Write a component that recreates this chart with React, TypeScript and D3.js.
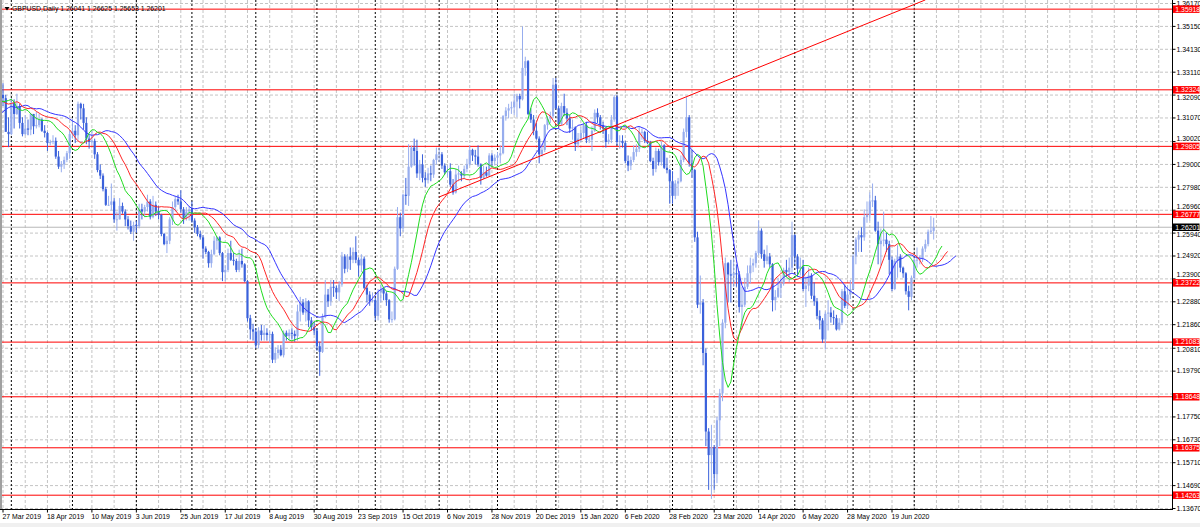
import React from "react";
import * as d3 from "d3";

// ---------- DATA (GBPUSD daily) ----------
// bar index of the first array entry relative to 27 Mar 2019 (bar 0); earlier bars feed the Alligator only
const FIRST_BAR = -27;

const opens = [
  // Feb 18 - Mar 26 2019 (warm-up, off screen)
  1.2900,1.2910,1.3045,1.3060,1.3040,1.3045,1.3080,1.3245,1.3280,1.3260,1.3195,1.3180,1.3165,1.3120,1.3030,1.3010,1.3160,1.3080,1.3240,1.3235,1.3260,1.3255,1.3245,1.3200,1.3080,1.3205,1.3200,
  // Mar 2019
  1.3210,1.3195,1.3045,
  // Apr 2019
  1.3035,1.3175,1.3125,1.3160,1.3085,1.3035,1.3060,1.3055,1.3125,1.3070,1.3075,1.3100,1.3050,1.3040,1.2995,1.3000,1.3005,1.2935,1.2890,1.2900,1.2920,1.2950,
  // May 2019
  1.3035,1.3050,1.3030,1.3170,1.3150,1.3085,1.3015,1.3000,1.3005,1.2945,1.2875,1.2850,1.2790,1.2720,1.2720,1.2735,1.2655,1.2655,1.2715,1.2690,1.2655,1.2625,1.2600,
  // Jun 2019
  1.2630,1.2625,1.2700,1.2690,1.2710,1.2735,1.2665,1.2720,1.2690,1.2675,1.2590,1.2545,1.2560,1.2655,1.2710,1.2745,1.2735,1.2700,1.2660,1.2690,
  // Jul 2019
  1.2700,1.2650,1.2620,1.2590,1.2575,1.2525,1.2510,1.2460,1.2500,1.2560,1.2575,1.2505,1.2420,1.2430,1.2505,1.2475,1.2470,1.2430,1.2470,1.2455,1.2380,1.2215,1.2165,
  // Aug 2019
  1.2155,1.2095,1.2160,1.2140,1.2150,1.2140,1.2145,1.2030,1.2060,1.2075,1.2050,1.2150,1.2135,1.2150,1.2145,1.2135,1.2245,1.2285,1.2240,1.2290,1.2205,1.2175,
  // Sep 2019
  1.2160,1.2090,1.2065,1.2220,1.2320,1.2290,1.2355,1.2350,1.2330,1.2365,1.2490,1.2435,1.2490,1.2475,1.2510,1.2475,1.2450,1.2480,1.2350,1.2320,1.2290,
  // Oct 2019
  1.2295,1.2225,1.2330,1.2345,1.2325,1.2295,1.2210,1.2210,1.2435,1.2665,1.2615,1.2765,1.2760,1.2890,1.2975,1.2960,1.2860,1.2900,1.2840,1.2830,1.2860,1.2855,1.2920,
  // Nov 2019
  1.2945,1.2945,1.2895,1.2865,1.2870,1.2810,1.2775,1.2855,1.2860,1.2850,1.2880,1.2900,1.2965,1.2940,1.2935,1.2900,1.2840,1.2865,1.2850,1.2940,1.2915,
  // Dec 2019
  1.2930,1.2940,1.2950,1.3115,1.3140,1.3150,1.3155,1.3180,1.3205,1.3190,1.3330,1.3360,1.3125,1.3100,1.3050,1.3015,1.2945,1.2965,1.3075,1.3105,1.3115,
  // Jan 2020
  1.3255,1.3150,1.3080,1.3160,1.3130,1.3105,1.3060,1.3065,1.2990,1.3015,1.3040,1.3075,1.3010,1.3010,1.3050,1.3130,1.3110,1.3075,1.3060,1.3000,1.3010,1.3100,
  // Feb 2020
  1.3200,1.3000,1.3005,1.2995,1.2915,1.2895,1.2920,1.2955,1.2970,1.3045,1.3045,1.3005,1.2995,1.2915,1.2880,1.2960,1.2910,1.2985,1.2885,1.2875,
  // Mar 2020
  1.2825,1.2760,1.2815,1.2825,1.2920,1.3045,1.3110,1.2905,1.2875,1.2575,1.2275,1.2285,1.2060,1.1710,1.1605,1.1640,1.1520,1.1760,1.1880,1.2195,1.2460,1.2410,
  // Apr 2020
  1.2405,1.2415,1.2410,1.2265,1.2275,1.2355,1.2415,1.2450,1.2460,1.2505,1.2605,1.2500,1.2470,1.2490,1.2455,1.2295,1.2310,1.2350,1.2370,1.2430,1.2420,1.2440,
  // May 2020
  1.2585,1.2490,1.2435,1.2445,1.2345,1.2360,1.2405,1.2315,1.2290,1.2225,1.2205,1.2120,1.2235,1.2240,1.2220,1.2215,1.2165,1.2195,1.2335,1.2270,1.2320,
  // Jun 2020
  1.2345,1.2490,1.2565,1.2585,1.2575,1.2665,1.2675,1.2735,1.2740,1.2605,1.2545,1.2560,1.2565,1.2545,1.2475,1.2345,1.2470,1.2490,1.2440,1.2415,1.2335,1.2310,
  // Jul 2020
  1.2395,1.2475,1.2475,1.2480,1.2525,1.2545,1.2600,1.26041,
];

const highs = [
  1.2955,1.3075,1.3110,1.3075,1.3070,1.3140,1.3250,1.3350,1.3290,1.3275,1.3225,1.3200,1.3185,1.3140,1.3060,1.3180,1.3290,1.3380,1.3320,1.3285,1.3310,1.3295,1.3290,1.3220,1.3225,1.3230,1.3230,
  1.3262,1.3210,1.3110,
  1.3195,1.3190,1.3215,1.3170,1.3110,1.3120,1.3100,1.3130,1.3125,1.3135,1.3125,1.3105,1.3075,1.3045,1.3010,1.3030,1.3020,1.2960,1.2915,1.2935,1.2960,1.3050,
  1.3105,1.3075,1.3180,1.3175,1.3170,1.3110,1.3030,1.3050,1.3015,1.2955,1.2900,1.2860,1.2800,1.2760,1.2815,1.2750,1.2690,1.2750,1.2730,1.2700,1.2670,1.2650,1.2645,
  1.2650,1.2725,1.2725,1.2720,1.2765,1.2745,1.2760,1.2735,1.2715,1.2680,1.2595,1.2580,1.2665,1.2735,1.2760,1.2765,1.2785,1.2710,1.2710,1.2715,
  1.2735,1.2660,1.2630,1.2605,1.2585,1.2535,1.2515,1.2520,1.2580,1.2580,1.2580,1.2510,1.2450,1.2525,1.2560,1.2505,1.2480,1.2520,1.2525,1.2460,1.2385,1.2230,1.2190,
  1.2170,1.2175,1.2185,1.2185,1.2170,1.2155,1.2155,1.2085,1.2095,1.2095,1.2160,1.2160,1.2165,1.2170,1.2160,1.2275,1.2310,1.2300,1.2305,1.2295,1.2220,1.2200,
  1.2170,1.2110,1.2235,1.2385,1.2345,1.2385,1.2385,1.2360,1.2380,1.2510,1.2500,1.2500,1.2530,1.2530,1.2580,1.2485,1.2500,1.2490,1.2365,1.2335,1.2330,
  1.2305,1.2345,1.2365,1.2350,1.2335,1.2300,1.2245,1.2445,1.2710,1.2685,1.2770,1.2840,1.2990,1.2985,1.3015,1.3010,1.2920,1.2945,1.2865,1.2885,1.2895,1.2925,1.2975,
  1.2975,1.2955,1.2905,1.2895,1.2905,1.2835,1.2880,1.2895,1.2870,1.2895,1.2925,1.2985,1.2970,1.2965,1.2985,1.2905,1.2895,1.2890,1.2950,1.2950,1.2945,
  1.2955,1.2985,1.3120,1.3155,1.3170,1.3180,1.3215,1.3215,1.3215,1.3515,1.3380,1.3365,1.3150,1.3120,1.3085,1.3025,1.2990,1.3080,1.3115,1.3135,1.3285,
  1.3285,1.3160,1.3175,1.3215,1.3150,1.3120,1.3100,1.3070,1.3040,1.3065,1.3085,1.3090,1.3030,1.3070,1.3145,1.3150,1.3120,1.3090,1.3065,1.3035,1.3120,1.3210,
  1.3210,1.3030,1.3030,1.3005,1.2940,1.2935,1.2985,1.2990,1.3070,1.3060,1.3050,1.3045,1.3005,1.2930,1.2975,1.2970,1.3000,1.2990,1.2930,1.2880,
  1.2870,1.2830,1.2840,1.2940,1.3060,1.3200,1.3120,1.2965,1.2880,1.2600,1.2405,1.2300,1.2080,1.1725,1.1740,1.1650,1.1775,1.1900,1.2210,1.2485,1.2465,1.2475,
  1.2485,1.2455,1.2425,1.2355,1.2395,1.2450,1.2485,1.2480,1.2515,1.2650,1.2615,1.2520,1.2540,1.2505,1.2460,1.2340,1.2395,1.2390,1.2440,1.2475,1.2485,1.2645,
  1.2590,1.2500,1.2485,1.2475,1.2400,1.2440,1.2415,1.2375,1.2305,1.2250,1.2215,1.2245,1.2295,1.2265,1.2250,1.2230,1.2215,1.2345,1.2365,1.2360,1.2385,
  1.2500,1.2575,1.2605,1.2620,1.2700,1.2735,1.2775,1.2815,1.2760,1.2645,1.2615,1.2690,1.2595,1.2560,1.2490,1.2480,1.2540,1.2500,1.2445,1.2420,1.2360,1.2405,
  1.2485,1.2530,1.2495,1.2535,1.2565,1.2610,1.2670,1.26625,
];

const lows = [
  1.2885,1.2890,1.3020,1.3005,1.2975,1.3040,1.3070,1.3235,1.3240,1.3185,1.3140,1.3125,1.3105,1.3015,1.2960,1.2990,1.2945,1.3030,1.3170,1.3220,1.3230,1.3205,1.3155,1.3005,1.3060,1.3155,1.3165,
  1.3160,1.3055,1.2977,
  1.3030,1.3060,1.3120,1.3060,1.3025,1.3030,1.3030,1.3030,1.3035,1.3060,1.3065,1.3045,1.3020,1.2960,1.2985,1.2990,1.2925,1.2880,1.2865,1.2880,1.2910,1.2925,
  1.3015,1.2995,1.3010,1.3100,1.3055,1.2990,1.2970,1.2985,1.2925,1.2865,1.2835,1.2780,1.2715,1.2715,1.2695,1.2640,1.2605,1.2655,1.2680,1.2625,1.2610,1.2590,1.2560,
  1.2595,1.2615,1.2655,1.2665,1.2690,1.2655,1.2660,1.2670,1.2655,1.2580,1.2540,1.2505,1.2545,1.2630,1.2690,1.2720,1.2685,1.2635,1.2650,1.2650,
  1.2640,1.2595,1.2580,1.2565,1.2480,1.2500,1.2440,1.2440,1.2495,1.2520,1.2495,1.2380,1.2380,1.2420,1.2470,1.2450,1.2420,1.2420,1.2440,1.2375,1.2200,1.2120,1.2115,
  1.2080,1.2080,1.2115,1.2115,1.2115,1.2105,1.2015,1.2015,1.2035,1.2045,1.2040,1.2115,1.2115,1.2120,1.2110,1.2115,1.2200,1.2230,1.2200,1.2175,1.2160,1.2140,
  1.2070,1.1958,1.2060,1.2215,1.2265,1.2270,1.2310,1.2300,1.2290,1.2355,1.2415,1.2420,1.2430,1.2460,1.2460,1.2400,1.2420,1.2345,1.2285,1.2270,1.2285,
  1.2205,1.2205,1.2285,1.2295,1.2270,1.2195,1.2195,1.2205,1.2430,1.2580,1.2600,1.2720,1.2715,1.2885,1.2895,1.2840,1.2830,1.2820,1.2800,1.2815,1.2825,1.2840,1.2900,
  1.2910,1.2880,1.2855,1.2845,1.2800,1.2765,1.2770,1.2825,1.2825,1.2835,1.2865,1.2895,1.2915,1.2900,1.2890,1.2810,1.2835,1.2845,1.2845,1.2890,1.2895,
  1.2895,1.2905,1.2945,1.3095,1.3105,1.3125,1.3120,1.3110,1.3150,1.3185,1.3295,1.3120,1.3085,1.3030,1.3010,1.2905,1.2935,1.2955,1.3055,1.3085,1.3105,
  1.3145,1.3060,1.3075,1.3115,1.3075,1.3040,1.3010,1.2960,1.2975,1.3000,1.3015,1.2995,1.2995,1.2960,1.3045,1.3085,1.3055,1.3035,1.2975,1.2990,1.2995,1.3090,
  1.2985,1.2970,1.2975,1.2905,1.2870,1.2875,1.2910,1.2935,1.2955,1.3010,1.2995,1.2990,1.2910,1.2850,1.2865,1.2895,1.2895,1.2880,1.2860,1.2725,
  1.2725,1.2745,1.2760,1.2820,1.2910,1.3020,1.2890,1.2840,1.2555,1.2260,1.2235,1.2005,1.1645,1.1450,1.1410,1.1450,1.1480,1.1645,1.1845,1.2170,1.2285,1.2285,
  1.2355,1.2355,1.2240,1.2165,1.2265,1.2345,1.2370,1.2420,1.2440,1.2495,1.2480,1.2440,1.2455,1.2440,1.2245,1.2250,1.2305,1.2305,1.2360,1.2400,1.2375,1.2420,
  1.2455,1.2400,1.2405,1.2335,1.2265,1.2335,1.2300,1.2270,1.2210,1.2165,1.2105,1.2075,1.2160,1.2195,1.2185,1.2160,1.2160,1.2185,1.2260,1.2255,1.2300,
  1.2340,1.2455,1.2510,1.2510,1.2560,1.2640,1.2650,1.2710,1.2600,1.2455,1.2450,1.2535,1.2510,1.2410,1.2335,1.2340,1.2395,1.2420,1.2395,1.2320,1.2250,1.2295,
  1.2385,1.2440,1.2455,1.2465,1.2510,1.2535,1.2590,1.25653,
];

const closes = [
  1.2910,1.3045,1.3060,1.3040,1.3045,1.3080,1.3245,1.3280,1.3260,1.3195,1.3180,1.3165,1.3120,1.3030,1.3010,1.3160,1.3080,1.3240,1.3235,1.3260,1.3255,1.3245,1.3200,1.3080,1.3205,1.3200,1.3210,
  1.3195,1.3045,1.3035,
  1.3175,1.3125,1.3160,1.3085,1.3035,1.3060,1.3055,1.3125,1.3070,1.3075,1.3100,1.3050,1.3040,1.2995,1.3000,1.3005,1.2935,1.2890,1.2900,1.2920,1.2950,1.3035,
  1.3050,1.3030,1.3170,1.3150,1.3085,1.3015,1.3000,1.3005,1.2945,1.2875,1.2850,1.2790,1.2720,1.2720,1.2735,1.2655,1.2655,1.2715,1.2690,1.2655,1.2625,1.2600,1.2630,
  1.2625,1.2700,1.2690,1.2710,1.2735,1.2665,1.2720,1.2690,1.2675,1.2590,1.2545,1.2560,1.2655,1.2710,1.2745,1.2735,1.2700,1.2660,1.2690,1.2700,
  1.2650,1.2620,1.2590,1.2575,1.2525,1.2510,1.2460,1.2500,1.2560,1.2575,1.2505,1.2420,1.2430,1.2505,1.2475,1.2470,1.2430,1.2470,1.2455,1.2380,1.2215,1.2165,1.2155,
  1.2095,1.2160,1.2140,1.2150,1.2140,1.2145,1.2030,1.2060,1.2075,1.2050,1.2150,1.2135,1.2150,1.2145,1.2135,1.2245,1.2285,1.2240,1.2290,1.2205,1.2175,1.2160,
  1.2090,1.2065,1.2220,1.2320,1.2290,1.2355,1.2350,1.2330,1.2365,1.2490,1.2435,1.2490,1.2475,1.2510,1.2475,1.2450,1.2480,1.2350,1.2320,1.2290,1.2295,
  1.2225,1.2330,1.2345,1.2325,1.2295,1.2210,1.2210,1.2435,1.2665,1.2615,1.2765,1.2760,1.2890,1.2975,1.2960,1.2860,1.2900,1.2840,1.2830,1.2860,1.2855,1.2920,1.2945,
  1.2945,1.2895,1.2865,1.2870,1.2810,1.2775,1.2855,1.2860,1.2850,1.2880,1.2900,1.2965,1.2940,1.2935,1.2900,1.2840,1.2865,1.2850,1.2940,1.2915,1.2930,
  1.2940,1.2950,1.3115,1.3140,1.3150,1.3155,1.3180,1.3205,1.3190,1.3330,1.3360,1.3125,1.3100,1.3050,1.3015,1.2945,1.2965,1.3075,1.3105,1.3115,1.3255,
  1.3150,1.3080,1.3160,1.3130,1.3105,1.3060,1.3065,1.2990,1.3015,1.3040,1.3075,1.3010,1.3010,1.3050,1.3130,1.3110,1.3075,1.3060,1.3000,1.3010,1.3100,1.3200,
  1.3000,1.3005,1.2995,1.2915,1.2895,1.2920,1.2955,1.2970,1.3045,1.3045,1.3005,1.2995,1.2915,1.2880,1.2960,1.2910,1.2985,1.2885,1.2875,1.2825,
  1.2760,1.2815,1.2825,1.2920,1.3045,1.3110,1.2905,1.2875,1.2575,1.2275,1.2285,1.2060,1.1710,1.1605,1.1640,1.1520,1.1760,1.1880,1.2195,1.2460,1.2410,1.2405,
  1.2415,1.2410,1.2265,1.2275,1.2355,1.2415,1.2450,1.2460,1.2505,1.2605,1.2500,1.2470,1.2490,1.2455,1.2295,1.2310,1.2350,1.2370,1.2430,1.2420,1.2440,1.2585,
  1.2490,1.2435,1.2445,1.2345,1.2360,1.2405,1.2315,1.2290,1.2225,1.2205,1.2120,1.2235,1.2240,1.2220,1.2215,1.2165,1.2195,1.2335,1.2270,1.2320,1.2345,
  1.2490,1.2565,1.2585,1.2575,1.2665,1.2675,1.2735,1.2740,1.2605,1.2545,1.2560,1.2565,1.2545,1.2475,1.2345,1.2470,1.2490,1.2440,1.2415,1.2335,1.2310,1.2395,
  1.2475,1.2475,1.2480,1.2525,1.2545,1.2600,1.2605,1.26201,
];

// x-axis labels and the bar each belongs to
const dateLabels = ["27 Mar 2019","18 Apr 2019","10 May 2019","3 Jun 2019","25 Jun 2019","17 Jul 2019","8 Aug 2019","30 Aug 2019","23 Sep 2019","15 Oct 2019","6 Nov 2019","28 Nov 2019","20 Dec 2019","15 Jan 2020","6 Feb 2020","28 Feb 2020","23 Mar 2020","14 Apr 2020","6 May 2020","28 May 2020","19 Jun 2020"];
const dateLabelBars = [0,16,32,48,64,80,96,112,128,144,160,176,192,208,224,240,256,272,288,304,320];
// first bar of each month (period separators)
const monthStartBars = [3,25,48,68,91,113,134,157,178,199,221,241,263,285,306,328];
// vertical grid step in bars
const gridBarStep = 8;

// price axis ticks (labels that the picture hides behind a level label are empty)
const priceTicks = [1.3617,1.3515,1.3413,1.3311,1.3209,1.3107,1.3002,1.29,1.2798,1.2696,1.2594,1.2492,1.239,1.2288,1.2186,1.2081,1.1979,1.1877,1.1775,1.1673,1.1571,1.1469,1.1367];
const priceTickLabels = ["1.36170","1.35150","1.34130","1.33110","1.32090","1.31070","1.30020","1.29000","1.27980","1.26960","1.25940","1.24920","1.23900","1.22880","1.21860","1.20810","1.19790","","1.17750","1.16730","1.15710","1.14690","1.13670"];

// horizontal levels
const levelPrices = [1.35918,1.32324,1.29805,1.26777,1.23722,1.21083,1.18648,1.16375,1.14263];
const levelLabels = ["1.35918","1.32324","1.29805","1.26777","1.23722","1.21083","1.18648","1.16375","1.14263"];
const bidPrice = 1.26201;
const bidLabel = "1.26201";

// trend line anchors
const trendBars = [157, 332];
const trendPrices = [1.2755, 1.3633];

const headerText = "GBPUSD,Daily  1.26041 1.26625 1.25653 1.26201";

// Alligator settings: period, shift
const alligator = [
  { name: "jaw", period: 13, shift: 8, color: "#3535ff" },
  { name: "teeth", period: 8, shift: 5, color: "#ff2626" },
  { name: "lips", period: 5, shift: 3, color: "#1fdc1f" },
];

// ---------- LAYOUT ----------
const W = 1200, H = 527;
const PLOT_R = 1172.5, PLOT_B = 509.5;
const FONT = "'Liberation Sans', Arial, sans-serif";
const FS = 6.9;
const BOX_H = 7.5;

const x = d3.scaleLinear().domain([0, 320]).range([3, 892]);
const y = d3.scaleLinear().domain([1.1367, 1.3617]).range([508.5, 3.5]);

function smma(src: number[], n: number): (number | null)[] {
  const out: (number | null)[] = new Array(src.length).fill(null);
  let prev = 0;
  for (let i = 0; i < src.length; i++) {
    if (i < n - 1) continue;
    if (i === n - 1) { prev = d3.mean(src.slice(0, n)) as number; }
    else { prev = (prev * (n - 1) + src[i]) / n; }
    out[i] = prev;
  }
  return out;
}

export default function App() {
  const n = closes.length;
  const median = d3.range(n).map((i) => (highs[i] + lows[i]) / 2);
  const bars = d3.range(n).map((i) => ({
    pos: i + FIRST_BAR, o: opens[i], h: highs[i], l: lows[i], c: closes[i],
  })).filter((b) => x(b.pos) > -4);

  const lineGen = d3.line<[number, number]>().x((d) => x(d[0])).y((d) => y(d[1]));
  const alligatorPaths = alligator.map((a) => {
    const s = smma(median, a.period);
    const pts: [number, number][] = [];
    s.forEach((v, i) => { if (v != null) pts.push([i + FIRST_BAR + a.shift, v]); });
    return { ...a, d: lineGen(pts.filter((p) => x(p[0]) > -10)) || "" };
  });

  const gridBars = d3.range(0, 420, gridBarStep).filter((b) => x(b) < PLOT_R);

  // tick label positions, nudged clear of the coloured level boxes (top label stays at its tick)
  const boxYs = [...levelPrices, bidPrice].map((p) => y(p));
  const tickLabelY = priceTicks.map((p, i) => {
    let ty = y(p);
    if (i === 0) return ty;
    boxYs.forEach((by) => {
      const d = ty - by;
      if (Math.abs(d) < 7.8) ty = by + (d >= 0 ? 7.8 : -7.8);
    });
    return ty;
  });

  const bull = "#97adee", bear = "#3a61db";

  return (
    <svg width={W} height={H} style={{ position: "absolute", left: 0, top: 0, background: "#fff" }} fontFamily={FONT}>
      <defs>
        <clipPath id="plot"><rect x={0} y={0} width={PLOT_R} height={PLOT_B} /></clipPath>
      </defs>
      <rect x={0} y={0} width={W} height={H} fill="#fff" />
      <rect x={0} y={523} width={W} height={4} fill="#f0f0f0" />
      <g clipPath="url(#plot)">
        {priceTicks.map((p, i) => (
          <line key={"hg" + i} x1={0} x2={PLOT_R} y1={y(p)} y2={y(p)} stroke="#c4c4c4" strokeWidth={1} strokeDasharray="3,2" />
        ))}
        {gridBars.map((b) => (
          <line key={"vg" + b} x1={x(b)} x2={x(b)} y1={0} y2={PLOT_B} stroke="#c4c4c4" strokeWidth={1} strokeDasharray="3,2" />
        ))}
        {monthStartBars.map((b) => (
          <line key={"ms" + b} x1={x(b)} x2={x(b)} y1={0} y2={PLOT_B} stroke="#000" strokeWidth={1} strokeDasharray="2,2" />
        ))}
        {levelPrices.map((p, i) => (
          <line key={"lv" + i} x1={0} x2={PLOT_R} y1={y(p)} y2={y(p)} stroke="#ff0000" strokeWidth={1} />
        ))}
        <line x1={0} x2={PLOT_R} y1={y(bidPrice)} y2={y(bidPrice)} stroke="#b8b8b8" strokeWidth={1} />
        {bars.map((b) => {
          const cx = x(b.pos);
          const up = b.c >= b.o;
          const col = up ? bull : bear;
          const yTop = y(Math.max(b.o, b.c));
          const yBot = y(Math.min(b.o, b.c));
          return (
            <g key={"c" + b.pos}>
              <line x1={cx} x2={cx} y1={y(b.h)} y2={y(b.l)} stroke={col} strokeWidth={1} />
              <rect x={cx - 1.1} y={yTop} width={2.2} height={Math.max(0.8, yBot - yTop)} fill={col} />
            </g>
          );
        })}
        {alligatorPaths.map((a) => (
          <path key={a.name} d={a.d} fill="none" stroke={a.color} strokeWidth={1} />
        ))}
        <line x1={x(trendBars[0])} y1={y(trendPrices[0])} x2={x(trendBars[1])} y2={y(trendPrices[1])} stroke="#ff0000" strokeWidth={1} />
      </g>
      <line x1={1} x2={1} y1={0} y2={PLOT_B} stroke="#a0a0a0" strokeWidth={2} />
      <line x1={PLOT_R} x2={PLOT_R} y1={0} y2={PLOT_B + 0.5} stroke="#000" strokeWidth={1} />
      <line x1={0} x2={PLOT_R} y1={PLOT_B} y2={PLOT_B} stroke="#000" strokeWidth={1} />
      <path d="M4.5,7 L9.5,7 L7,10.5 Z" fill="#000" />
      <text x={12} y={11.3} fontSize={FS} fill="#000">{headerText}</text>
      {priceTicks.map((p, i) => (
        <g key={"pt" + i}>
          <line x1={PLOT_R} x2={PLOT_R + 3} y1={y(p)} y2={y(p)} stroke="#000" strokeWidth={1} />
          {priceTickLabels[i] ? (
            <text x={1176.5} y={tickLabelY[i]} dy="0.34em" fontSize={FS} fill="#000">{priceTickLabels[i]}</text>
          ) : null}
        </g>
      ))}
      {levelPrices.map((p, i) => (
        <g key={"ll" + i}>
          <rect x={1173} y={y(p) - BOX_H / 2} width={26.5} height={BOX_H} fill="#ff0000" />
          <text x={1175.3} y={y(p)} dy="0.34em" fontSize={FS} fill="#fff">{levelLabels[i]}</text>
        </g>
      ))}
      <rect x={1173} y={y(bidPrice) - BOX_H / 2} width={26.5} height={BOX_H} fill="#000" />
      <text x={1175.3} y={y(bidPrice)} dy="0.34em" fontSize={FS} fill="#fff">{bidLabel}</text>
      {dateLabelBars.map((b, i) => (
        <g key={"dl" + i}>
          <line x1={x(b)} x2={x(b)} y1={PLOT_B} y2={PLOT_B + 3} stroke="#000" strokeWidth={1} />
          <text x={x(b) - 0.5} y={519.3} fontSize={FS} fill="#000">{dateLabels[i]}</text>
        </g>
      ))}
    </svg>
  );
}
